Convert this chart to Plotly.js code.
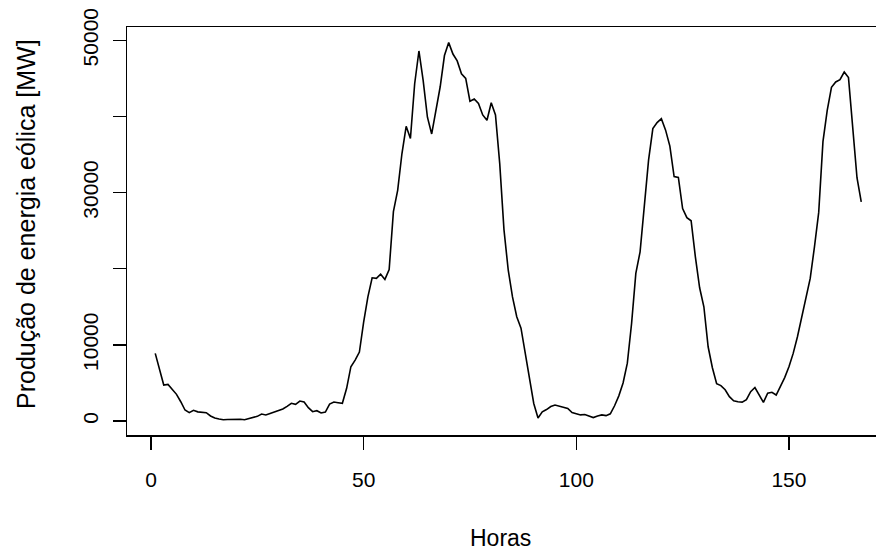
<!DOCTYPE html>
<html>
<head>
<meta charset="utf-8">
<script src="https://cdn.plot.ly/plotly-3.0.1.min.js"></script>
<style>html,body{margin:0;padding:0;background:#fff;}#chart{width:876px;height:551px;}</style>
</head>
<body>
<div id="chart"></div>
<script>
// Hourly wind power production [MW], hours 1..167
const producao = [
  8880, 6800, 4720, 4810, 4150, 3500, 2530, 1440, 1090, 1400,
  1200, 1140, 1090, 660, 390, 260, 170, 190, 220, 260,
  220, 170, 350, 480, 610, 920, 790, 1000, 1220, 1440,
  1570, 1930, 2320, 2190, 2620, 2490, 1750, 1220, 1350, 1050,
  1180, 2230, 2490, 2400, 2320, 4290, 7130, 8000, 9050, 13000,
  16300, 18810, 18730, 19290, 18600, 19900, 27500, 30300, 35100, 38700,
  37100, 44300, 48600, 44700, 39900, 37700, 40800, 43900, 48000, 49700,
  48200, 47300, 45600, 45000, 42000, 42300, 41700, 40200, 39500, 41800,
  40200, 33800, 25100, 19800, 16300, 13700, 12200, 8700, 5400, 2300,
  400, 1200, 1500, 1900, 2100, 1950, 1750, 1650, 1100, 950,
  800, 850, 650, 450, 650, 800, 700, 950, 2000, 3300,
  5000, 7600, 12800, 19380, 22220, 28700, 34300, 38400, 39200, 39700,
  38200, 36100, 32100, 32000, 27900, 26700, 26300, 21560, 17500, 15000,
  9750, 7000, 4900, 4650, 4100, 3190, 2660, 2530, 2480, 2800,
  3850, 4400, 3410, 2450, 3640, 3770, 3410, 4600, 5700, 7130,
  8880, 11060, 13480, 16100, 18730, 22870, 27400, 36700, 40810, 43830,
  44530, 44840, 45840, 45100, 38620, 31950, 28780
];
const horas = producao.map((_, i) => i + 1);
const xTickVals = [0, 50, 100, 150];
const yTickVals = [0, 10000, 20000, 30000, 40000, 50000];
const yTickText = ["0", "10000", "", "30000", "", "50000"];
const xTitle = "Horas";
const yTitle = "Produção de energia eólica [MW]";

const fam = "Liberation Sans, Arial, Helvetica, sans-serif";
const tickFont = {family: fam, size: 21, color: "#000"};
const xTitleFont = {family: fam, size: 23, color: "#000"};
const yTitleFont = {family: fam, size: 25, color: "#000"};

const trace = {
  x: horas, y: producao, type: "scatter", mode: "lines",
  line: {color: "#000", width: 1.6}, hoverinfo: "x+y"
};

const layout = {
  width: 876, height: 551,
  margin: {l: 127, r: 0, t: 27, b: 116, pad: 0},
  paper_bgcolor: "#fff", plot_bgcolor: "#fff",
  font: tickFont,
  showlegend: false,
  xaxis: {
    range: [-5.64, 170.47], tickvals: xTickVals, ticktext: xTickVals.map(String),
    ticks: "outside", ticklen: 13, tickwidth: 1.3, tickcolor: "#000",
    showline: true, linecolor: "#000", linewidth: 1.5, mirror: true,
    showgrid: false, zeroline: false, tickfont: tickFont, ticklabelstandoff: 12
  },
  yaxis: {
    range: [-1840, 51750], tickvals: yTickVals, ticktext: yTickText,
    ticks: "outside", ticklen: 13, tickwidth: 1.3, tickcolor: "#000",
    showline: true, linecolor: "#000", linewidth: 1.5, mirror: false,
    showgrid: false, zeroline: false, tickfont: tickFont, tickangle: -90, ticklabelstandoff: 6
  },
  annotations: [
    {text: xTitle, xref: "paper", yref: "paper", x: (500 - 127) / (876 - 127), y: 0, xanchor: "center", yanchor: "middle", yshift: -103, showarrow: false, font: xTitleFont},
    {text: yTitle, xref: "paper", yref: "paper", x: 0, y: (435 - 224) / 408, xanchor: "center", yanchor: "middle", xshift: -101, textangle: -90, showarrow: false, font: yTitleFont}
  ]
};

Plotly.newPlot("chart", [trace], layout, {displayModeBar: false, staticPlot: true});
</script>
</body>
</html>
